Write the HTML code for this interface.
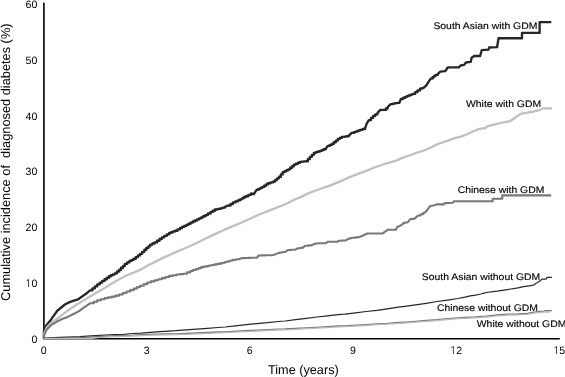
<!DOCTYPE html>
<html><head><meta charset="utf-8"><style>
html,body{margin:0;padding:0;background:#fff;}
body{width:565px;height:377px;overflow:hidden;}
svg{display:block;text-rendering:geometricPrecision;font-family:"Liberation Sans",Arial,sans-serif;}
</style></head><body>
<svg width="565" height="377" viewBox="0 0 565 377">
<rect width="565" height="377" fill="#fff"/>
<path d="M43.9 2.8V338.7H559.8" fill="none" stroke="#000" stroke-width="1.6"/>
<g fill="none" stroke-linejoin="round" stroke-linecap="butt">
<polyline points="43.9,338.5 43.9,331.4 45.5,326.6 48.3,323.1 51.0,319.7 53.8,315.6 57.3,310.7 60.7,308.0 64.9,304.5 69.0,302.4 73.1,300.8 76.6,299.9 78.7,299.0 81.4,296.9 85.6,294.1 90.0,290.3 92.4,290.3 92.4,288.3 94.9,288.3 94.9,286.3 97.3,286.3 97.3,284.3 99.7,284.3 99.7,282.6 102.2,282.6 102.2,280.9 104.6,280.9 104.6,279.2 106.8,279.2 106.8,277.7 109.0,277.7 109.0,276.2 110.9,276.2 110.9,275.2 112.9,275.2 112.9,274.3 114.8,274.3 114.8,273.3 117.0,273.3 117.0,271.5 119.2,271.5 119.2,269.7 121.1,269.7 121.1,267.7 123.1,267.7 123.1,265.8 125.0,265.8 125.0,263.8 127.2,263.8 127.2,262.4 129.4,262.4 129.4,260.9 131.6,260.9 131.6,259.8 133.7,259.8 133.7,258.7 135.8,258.7 135.8,257.1 137.9,257.1 137.9,255.4 140.0,255.4 140.0,253.8 142.2,253.8 142.2,251.8 144.4,251.8 144.4,249.7 146.3,249.7 146.3,248.0 148.3,248.0 148.3,246.3 150.2,246.3 150.2,244.6 152.4,244.6 152.4,243.5 154.6,243.5 154.6,242.4 157.0,242.4 157.0,240.7 159.5,240.7 159.5,239.0 161.9,239.0 161.9,237.3 164.3,237.3 164.3,235.8 166.8,235.8 166.8,234.4 169.2,234.4 169.2,232.9 171.1,232.9 171.1,232.2 173.1,232.2 173.1,231.4 175.0,231.4 175.0,230.7 177.5,230.7 177.5,229.3 180.0,229.3 180.0,228.0 182.1,228.0 182.1,226.9 184.2,226.9 184.2,225.8 186.4,225.8 186.4,224.8 188.5,224.8 188.5,223.7 190.6,223.7 190.6,222.6 192.7,222.6 192.7,221.5 194.8,221.5 194.8,220.5 197.0,220.5 197.0,219.4 199.1,219.4 199.1,218.4 201.2,218.4 201.2,217.3 203.2,217.3 203.2,216.2 205.3,216.2 205.3,215.1 207.9,215.1 207.9,213.5 210.6,213.5 210.6,211.9 212.8,211.9 212.8,210.7 214.9,210.7 214.9,209.5 217.6,209.5 217.6,208.9 220.2,208.9 220.2,208.3 222.6,208.3 222.6,207.6 225.0,207.6 225.0,206.9 228.1,205.5 230.6,205.5 230.6,203.9 233.0,203.9 233.0,202.4 235.3,202.4 235.3,201.4 237.7,201.4 237.7,200.3 240.0,200.3 240.0,199.3 241.9,199.3 241.9,198.3 243.7,198.3 243.7,197.2 245.6,197.2 245.6,196.2 248.3,196.2 248.3,194.8 251.1,194.8 251.1,193.4 253.9,194.2 256.7,189.7 258.6,189.7 258.6,188.8 260.4,188.8 260.4,187.8 262.3,187.8 262.3,186.9 264.2,186.9 264.2,185.7 266.0,185.7 266.0,184.4 267.9,184.4 267.9,183.2 270.6,183.2 270.6,182.3 273.4,182.3 273.4,181.4 275.3,181.4 275.3,179.8 277.1,179.8 277.1,178.3 279.0,178.3 279.0,176.7 280.9,176.7 280.9,174.4 282.7,174.4 282.7,172.1 284.6,172.1 284.6,171.2 286.4,171.2 286.4,170.2 288.3,170.2 288.3,169.3 290.2,169.3 290.2,167.7 292.0,167.7 292.0,166.2 293.9,166.2 293.9,164.6 295.9,164.6 295.9,163.7 298.0,163.7 298.0,162.7 300.0,162.7 300.0,161.8 302.0,161.8 302.0,161.6 304.0,161.6 304.0,161.4 306.0,161.4 306.0,161.2 307.9,161.2 307.9,159.0 309.9,159.0 309.9,156.8 311.9,156.8 311.9,154.8 313.9,154.8 313.9,152.8 315.9,152.8 315.9,152.1 317.9,152.1 317.9,151.5 319.9,151.5 319.9,150.8 321.9,150.8 321.9,150.0 323.8,150.0 323.8,149.2 325.8,149.2 325.8,148.4 327.8,145.9 329.8,145.9 329.8,144.9 331.8,144.9 331.8,143.9 333.8,143.9 333.8,142.2 335.8,142.2 335.8,140.6 337.8,140.6 337.8,138.9 339.8,138.9 339.8,137.9 341.7,137.9 341.7,136.9 344.0,136.9 344.0,136.6 346.4,136.6 346.4,136.2 348.7,136.2 348.7,135.9 351.7,132.9 353.8,132.9 353.8,132.1 355.9,132.1 355.9,131.4 357.9,131.4 357.9,130.6 360.0,130.6 360.0,129.8 362.6,129.8 362.6,129.0 365.1,129.0 365.1,128.2 366.6,123.8 368.8,120.1 371.0,120.1 371.0,117.9 373.1,117.9 373.1,115.8 375.3,115.8 375.3,114.3 377.5,114.3 377.5,112.8 380.4,109.9 384.1,109.9 385.9,109.9 385.9,108.5 387.7,108.5 387.7,107.0 390.7,104.1 392.9,104.1 392.9,103.6 395.0,103.6 395.0,103.1 397.2,103.1 397.2,102.8 399.4,102.8 399.4,102.6 400.9,99.0 402.8,99.0 402.8,98.0 404.8,98.0 404.8,97.1 406.7,97.1 406.7,96.1 408.7,96.1 408.7,95.4 410.6,95.4 410.6,94.6 412.6,94.6 412.6,93.9 415.1,93.9 415.1,92.1 417.5,92.1 417.5,90.4 420.0,90.4 420.0,88.6 421.8,88.6 421.8,88.1 423.6,88.1 423.6,87.6 426.0,85.8 428.4,82.2 430.7,78.6 432.5,78.6 432.5,77.1 434.3,77.1 434.3,75.6 436.1,75.6 436.1,74.8 437.9,74.8 437.9,73.9 440.3,71.7 445.1,71.2 448.0,67.3 458.8,67.3 460.6,65.5 464.1,64.9 465.9,62.5 470.7,61.9 471.6,57.8 474.2,56.0 480.1,56.0 481.7,50.2 488.6,49.6 489.1,47.5 497.1,47.2 498.5,38.2 522.0,38.2 522.0,32.9 539.6,32.9 539.6,22.1 551.3,22.1" stroke="#262626" stroke-width="2.35"/>
<polyline points="43.9,338.5 43.9,334.2 46.9,327.3 51.0,323.1 56.6,319.0 62.1,314.9 67.6,310.7 74.5,305.9 81.4,301.7 90.0,296.6 97.3,292.3 104.6,287.9 111.9,283.5 119.2,279.2 126.4,275.5 133.7,272.6 140.0,269.9 147.3,265.7 154.6,262.1 161.9,258.4 169.2,255.1 176.4,251.9 183.7,248.7 190.3,246.0 201.2,240.8 211.8,235.6 220.0,231.7 229.9,227.4 239.9,223.3 249.5,219.0 258.6,214.8 267.9,211.1 277.2,207.4 286.4,203.7 295.7,199.0 300.0,197.4 309.9,192.6 319.9,189.0 329.8,185.6 339.7,181.6 349.7,177.1 360.0,173.2 366.2,171.0 372.4,168.2 378.6,166.0 384.8,163.8 391.0,162.1 397.2,160.4 403.4,157.3 409.6,155.5 415.8,153.0 422.0,151.2 430.0,147.9 436.2,144.7 442.4,142.5 448.6,140.4 454.8,138.2 461.0,136.6 467.2,134.2 473.4,131.3 479.6,128.8 485.8,128.0 487.0,126.4 492.0,125.1 500.0,123.2 505.3,122.0 510.1,121.2 515.9,117.0 521.2,113.6 527.6,112.7 534.0,111.5 539.3,110.1 543.5,108.3 552.0,108.5" stroke="#c0c0c0" stroke-width="2.3"/>
<polyline points="43.9,338.5 43.9,335.6 46.9,329.4 51.0,325.2 56.6,321.8 62.1,319.0 67.6,316.9 73.1,314.2 78.7,311.4 84.2,307.3 90.0,303.3 93.7,303.3 93.7,301.8 97.3,301.8 97.3,300.3 100.9,300.3 100.9,299.2 104.6,299.2 104.6,298.1 108.2,298.1 108.2,297.4 111.9,297.4 111.9,296.6 115.6,296.6 115.6,295.6 119.2,295.6 119.2,294.5 122.8,294.5 122.8,293.0 126.4,293.0 126.4,291.5 130.1,291.5 130.1,290.1 133.7,290.1 133.7,288.6 136.8,288.6 136.8,287.1 140.0,287.1 140.0,285.7 143.7,285.7 143.7,284.1 147.3,284.1 147.3,282.5 150.9,282.5 150.9,281.4 154.6,281.4 154.6,280.3 158.2,280.3 158.2,279.2 161.9,279.2 161.9,278.1 165.6,278.1 165.6,277.0 169.2,277.0 169.2,275.9 172.8,275.9 172.8,275.2 176.4,275.2 176.4,274.5 180.1,274.5 180.1,274.1 183.7,274.1 183.7,273.7 187.0,273.7 187.0,272.4 190.3,272.4 190.3,271.0 193.0,271.0 193.0,270.0 195.8,270.0 195.8,269.1 198.5,269.1 198.5,268.1 201.2,268.1 201.2,267.1 203.8,267.1 203.8,266.6 206.5,266.6 206.5,266.1 209.2,266.1 209.2,265.5 211.8,265.5 211.8,265.0 214.5,265.0 214.5,264.4 217.1,264.4 217.1,263.9 219.8,263.9 219.8,263.4 222.4,263.4 222.4,262.8 225.1,262.8 225.1,262.0 227.7,262.0 227.7,261.2 230.3,261.2 230.3,260.5 233.0,260.5 233.0,259.7 236.5,259.7 236.5,259.2 240.0,259.2 240.0,258.8 242.1,258.1 245.1,258.1 245.1,258.0 248.1,258.0 248.1,257.9 251.0,257.9 251.0,257.8 254.0,257.8 254.0,257.7 257.0,257.7 257.0,257.6 258.6,255.5 261.9,255.5 261.9,255.4 265.2,255.4 265.2,255.3 268.6,255.3 268.6,255.3 271.9,255.3 271.9,255.2 275.0,254.4 278.2,253.1 282.5,252.3 285.7,251.8 287.8,250.0 291.5,250.0 291.5,249.8 295.2,249.8 295.2,249.6 297.9,248.3 300.5,248.3 300.5,247.8 303.2,247.8 303.2,247.3 305.3,245.7 308.5,245.7 308.5,245.4 311.7,245.4 311.7,245.2 313.8,244.1 318.1,243.3 325.5,243.3 327.6,241.8 337.2,241.8 339.3,240.7 345.7,240.4 348.8,238.6 353.1,237.7 355.5,237.7 355.5,237.4 357.9,237.4 357.9,237.2 360.0,236.8 363.7,235.3 367.4,233.5 382.3,233.5 384.8,232.0 387.9,229.7 395.9,229.7 397.2,227.0 400.9,225.4 404.0,222.9 407.7,222.3 410.2,219.2 414.5,218.6 418.2,215.5 420.7,215.5 420.7,214.2 423.2,214.2 423.2,213.0 425.0,212.4 426.8,210.6 429.0,207.5 430.3,206.0 434.7,205.3 436.5,204.4 443.6,204.4 444.9,203.1 452.9,202.8 453.8,201.3 492.7,201.3 492.7,198.7 502.3,198.7 502.3,195.4 551.2,195.4" stroke="#787878" stroke-width="2.1"/>
<polyline points="43.9,338.0 60.0,337.4 80.0,336.7 91.0,335.8 100.0,335.4 115.0,334.5 123.8,334.3 132.7,333.5 141.5,333.1 150.4,332.4 159.2,331.7 165.0,331.3 175.6,330.7 186.2,329.8 196.9,329.1 207.5,328.3 218.1,327.5 225.0,327.0 235.6,325.9 246.2,324.7 256.9,323.6 267.5,322.7 278.1,321.5 285.0,321.0 295.6,319.6 306.2,318.3 316.9,317.0 327.5,315.9 338.1,314.7 345.0,314.2 355.6,312.8 366.2,311.5 376.9,310.4 387.5,308.8 398.1,307.2 405.0,306.3 415.6,304.9 426.2,303.3 436.9,301.5 447.5,300.1 458.1,298.5 465.0,297.2 470.3,295.9 475.6,295.1 480.9,294.0 483.1,293.3 486.2,292.5 496.9,291.2 507.5,289.6 518.1,287.8 523.5,286.6 527.1,286.1 530.6,285.6 534.2,284.9 535.6,283.5 538.4,282.0 540.5,280.6 541.9,279.2 546.2,279.1 546.9,277.4 551.9,277.4" stroke="#262626" stroke-width="1.2"/>
<polyline points="43.9,338.2 70.0,338.0 80.0,337.7 100.0,336.5 115.0,335.7 132.7,335.1 141.5,334.6 154.8,334.2 165.0,334.0 175.6,333.8 186.2,333.4 196.9,333.0 207.5,332.5 218.1,332.0 225.0,331.8 235.6,331.2 246.2,330.7 256.9,330.2 267.5,329.6 278.1,329.1 285.0,329.0 295.6,328.4 306.2,327.8 316.9,327.3 327.5,326.7 338.1,326.0 345.0,325.8 355.6,325.2 366.2,324.6 376.9,323.8 387.5,323.3 398.1,322.5 405.0,322.1 415.6,321.3 426.2,320.5 436.9,319.7 447.5,318.6 458.1,317.8 465.0,317.4 475.6,316.9 486.2,316.1 496.9,315.0 507.5,314.2 518.0,314.0 527.1,313.5 534.2,312.2 539.8,311.5 544.1,311.3 545.1,310.6 551.9,310.6" stroke="#777777" stroke-width="1.3"/>
<polyline points="43.9,338.7 90.0,338.6 100.0,337.4 115.0,336.6 132.7,336.0 141.5,335.5 154.8,335.1 165.0,334.9 175.6,334.7 186.2,334.3 196.9,333.9 207.5,333.4 218.1,332.9 225.0,332.7 235.6,332.1 246.2,331.6 256.9,331.1 267.5,330.5 278.1,330.0 285.0,329.9 295.6,329.3 306.2,328.7 316.9,328.2 327.5,327.6 338.1,326.9 345.0,326.7 355.6,326.1 366.2,325.5 376.9,324.7 387.5,324.2 398.1,323.4 405.0,323.0 415.6,322.2 426.2,321.4 436.9,320.6 447.5,319.5 458.1,318.7 465.0,318.3 475.6,317.8 486.2,317.0 496.9,315.9 507.5,315.1 518.0,314.9 527.1,314.4 534.2,313.1 539.8,312.4 544.0,312.0 550.0,312.0" stroke="#bbbbbb" stroke-width="1.3"/>
</g>
<g font-size="10.6" fill="#000">
<text x="37.3" y="342.7" text-anchor="end">0</text><text x="37.3" y="286.9" text-anchor="end"><tspan font-family="NanumGothic, Liberation Sans, sans-serif">1</tspan>0</text><text x="37.3" y="231.1" text-anchor="end">20</text><text x="37.3" y="175.3" text-anchor="end">30</text><text x="37.3" y="119.5" text-anchor="end">40</text><text x="37.3" y="63.7" text-anchor="end">50</text><text x="37.3" y="7.9" text-anchor="end">60</text>
<text x="43.6" y="353.8" text-anchor="middle">0</text><text x="146.7" y="353.8" text-anchor="middle">3</text><text x="249.8" y="353.8" text-anchor="middle">6</text><text x="352.9" y="353.8" text-anchor="middle">9</text><text x="456.0" y="353.8" text-anchor="middle"><tspan font-family="NanumGothic, Liberation Sans, sans-serif">1</tspan>2</text><text x="559.1" y="353.8" text-anchor="middle"><tspan font-family="NanumGothic, Liberation Sans, sans-serif">1</tspan>5</text>
</g>
<g font-size="12.7" fill="#000">
<text x="268" y="374.2">Time (years)</text>
<text transform="translate(9.9,300.9) rotate(-90)" x="0" y="0" font-size="12.8" xml:space="preserve">Cumulative incidence of  diagnosed diabetes (%)</text>
</g>
<g font-size="10.4" fill="#000" stroke="#000" stroke-width="0.15">
<text transform="translate(433.4,29.4) scale(1,0.92)">South Asian with GDM</text>
<text transform="translate(466,106.8) scale(1,0.92)">White with GDM</text>
<text transform="translate(457.7,193.0) scale(1,0.92)">Chinese with GDM</text>
<text transform="translate(421.8,280.3) scale(1,0.92)">South Asian without GDM</text>
<text transform="translate(436.9,311.3) scale(1,0.92)">Chinese without GDM</text>
<text transform="translate(476.8,326.6) scale(1,0.92)">White without GDM</text>
</g>
</svg>
</body></html>
